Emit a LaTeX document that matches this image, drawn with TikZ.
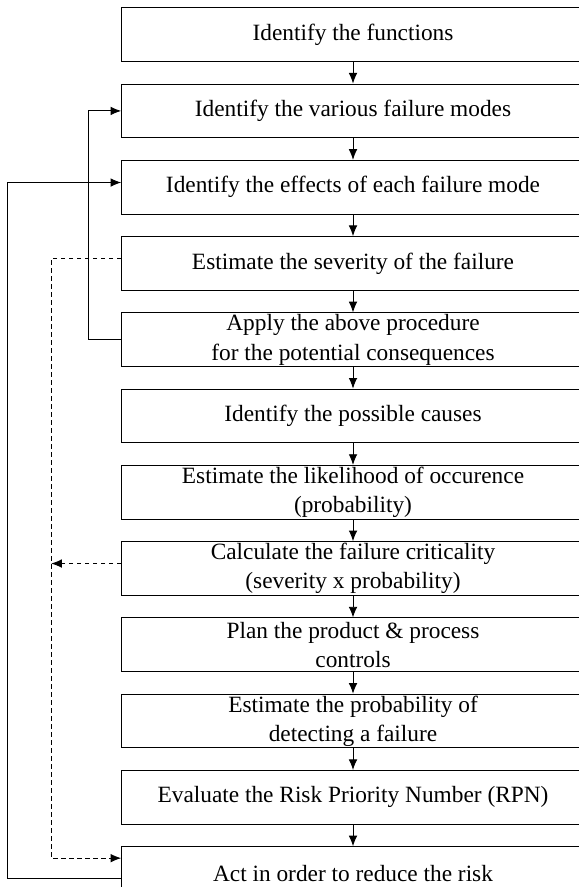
\documentclass[tikz,border=0pt]{standalone}
\usepackage{fontspec}
\setmainfont{Liberation Serif}
\usetikzlibrary{arrows.meta,positioning}
\tikzset{
  flow/.style={-{Latex[length=8pt,width=6.5pt]}, line width=.7pt},
  trace/.style={-{Latex[length=8pt,width=6.5pt]}, line width=.7pt, dash pattern=on 3.5pt off 2.5pt},
  stepbox/.style={draw, line width=.7pt, align=center, inner sep=0pt,
                  minimum height=40.3pt, minimum width=347pt,
                  font=\fontsize{17.5}{22}\selectfont}
}
\begin{document}
\begin{tikzpicture}[node distance=16.2pt]
  \useasboundingbox (0,0) rectangle (433.5pt,-665.25pt);
  \node[stepbox, anchor=north] (functions) at (264.75pt,-5.5pt) {Identify the functions};
  \node[stepbox, below=of functions] (modes) {Identify the various failure modes};
  \node[stepbox, below=of modes] (effects) {Identify the effects of each failure mode};
  \node[stepbox, below=of effects] (severity) {Estimate the severity of the failure};
  \node[stepbox, below=of severity] (consequences) {Apply the above procedure\\for the potential consequences};
  \node[stepbox, below=of consequences] (causes) {Identify the possible causes};
  \node[stepbox, below=of causes] (likelihood) {Estimate the likelihood of occurence\\(probability)};
  \node[stepbox, below=of likelihood] (criticality) {Calculate the failure criticality\\(severity x probability)};
  \node[stepbox, below=of criticality] (controls) {Plan the product \& process\\controls};
  \node[stepbox, below=of controls] (detection) {Estimate the probability of\\detecting a failure};
  \node[stepbox, below=of detection] (rpn) {Evaluate the Risk Priority Number (RPN)};
  \node[stepbox, below=of rpn] (act) {Act in order to reduce the risk};
  \draw[flow] (functions) -- (modes);
  \draw[flow] (modes) -- (effects);
  \draw[flow] (effects) -- (severity);
  \draw[flow] (severity) -- (consequences);
  \draw[flow] (consequences) -- (causes);
  \draw[flow] (causes) -- (likelihood);
  \draw[flow] (likelihood) -- (criticality);
  \draw[flow] (criticality) -- (controls);
  \draw[flow] (controls) -- (detection);
  \draw[flow] (detection) -- (rpn);
  \draw[flow] (rpn) -- (act);
  \draw[flow] (consequences.west) -- ++(-24.3pt,0) |- (modes.west);
  \draw[flow] ([yshift=-4pt]act.west) -- ++(-85pt,0) |- ([yshift=3.5pt]effects.west);
  \draw[trace] ([yshift=4pt]severity.west) -- ++(-52.5pt,0) |- ([yshift=11.6pt]act.west);
  \draw[trace] ([yshift=3.75pt]criticality.west) -- ++(-52.5pt,0);
\end{tikzpicture}
\end{document}
